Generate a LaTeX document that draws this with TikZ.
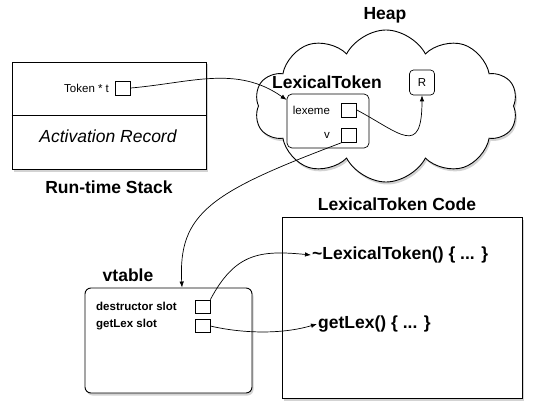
\documentclass[tikz,border=0pt]{standalone}
\usepackage{fontspec}
\setmainfont{Liberation Sans}
\usetikzlibrary{shapes.symbols, arrows.meta, positioning, shadows}
\tikzstyle{line} = [draw, -{Latex[length=6pt,width=4.5pt]}, line width=0.7pt]
\tikzstyle{panel} = [rectangle, draw, fill=white, line width=0.9pt,
  drop shadow={shadow xshift=1.5pt, shadow yshift=-2.5pt, opacity=0.35}]
\tikzstyle{slot} = [rectangle, draw, fill=white, line width=0.7pt,
  minimum width=15pt, minimum height=14pt, inner sep=0pt]
\tikzstyle{heading} = [font=\fontsize{17.5}{20}\selectfont\bfseries, inner sep=1pt]
\tikzstyle{smalltext} = [font=\fontsize{11.5}{13}\selectfont, inner sep=1pt]

\begin{document}
\begin{tikzpicture}[x=1pt, y=1pt]
    \useasboundingbox (0,0) rectangle (540,413);

    % run-time stack
    \node [panel, minimum width=194, minimum height=107] (stack) at (109,297.5) {};
    \draw [line width=0.9pt] (stack.west) -- (stack.east);
    \node [slot] (tokBox) at (123,325) {};
    \node [smalltext, left=5pt of tokBox] (tokenPtr) {Token * t};
    \node [font=\fontsize{17.5}{20}\selectfont\itshape] (actRec) at (108,277) {Activation Record};
    \node [heading, below=10pt of stack] (stackLabel) {Run-time Stack};

    % heap
    \node [cloud, draw, fill=white, cloud puffs=10, cloud puff arc=125, aspect=1.7,
      minimum width=263, minimum height=152, line width=0.9pt,
      drop shadow={shadow xshift=1.5pt, shadow yshift=-2.5pt, opacity=0.35}] (heap) at (386,307) {};
    \node [heading] (heapLabel) at (385,398) {Heap};
    \node [heading, anchor=west] (lexTok) at (271,331) {LexicalToken};
    \node [rectangle, draw, rounded corners=5pt, minimum width=82, minimum height=54,
      line width=0.7pt] (tokObj) at (328,292) {};
    \node [slot] (lexemeBox) at (349,303) {};
    \node [smalltext, left=10pt of lexemeBox] (lexeme) {lexeme};
    \node [slot] (vBox) at (349,277.5) {};
    \node [smalltext, left=10pt of vBox] (vField) {v};
    \node [smalltext, rectangle, draw, rounded corners=4pt, minimum size=25pt,
      line width=0.7pt] (refR) at (422,330.5) {R};

    % vtable
    \node [panel, rounded corners=6pt, minimum width=167, minimum height=105] (vtable) at (168.5,72.5) {};
    \node [heading] (vtableLabel) at (128,138) {vtable};
    \node [slot, minimum height=13pt] (dtorSlot) at (202.5,106.5) {};
    \node [slot, minimum height=13pt] (getLexSlot) at (202.5,87) {};
    \node [smalltext, font=\fontsize{11.5}{13}\selectfont\bfseries, anchor=west] (dtorName) at (95,107) {destructor slot};
    \node [smalltext, font=\fontsize{11.5}{13}\selectfont\bfseries, anchor=west] (getLexName) at (95,88) {getLex slot};

    % code
    \node [panel, minimum width=240, minimum height=181] (code) at (402,105.5) {};
    \node [heading] (codeLabel) at (397,209) {LexicalToken Code};
    \node [heading, anchor=west] (dtorCode) at (311,158) {\textasciitilde LexicalToken() \{ ... \}};
    \node [heading, anchor=west] (getLexCode) at (317,89) {getLex() \{ ... \}};

    \path [line] (tokBox.east) to[out=5, in=145] (tokObj.153);
    \path [line] (lexemeBox.east) .. controls (400,280) and (422,255) .. (refR.south);
    \path [line] (vBox.south west) .. controls (211,221) and (178,200) .. ([xshift=13.5pt]vtable.north);
    \path [line] (dtorSlot.north east) .. controls (235,160) and (260,163) .. (dtorCode.west);
    \path [line] (getLexSlot.east) .. controls (240,80) and (280,78) .. (getLexCode.west);
\end{tikzpicture}
\end{document}
